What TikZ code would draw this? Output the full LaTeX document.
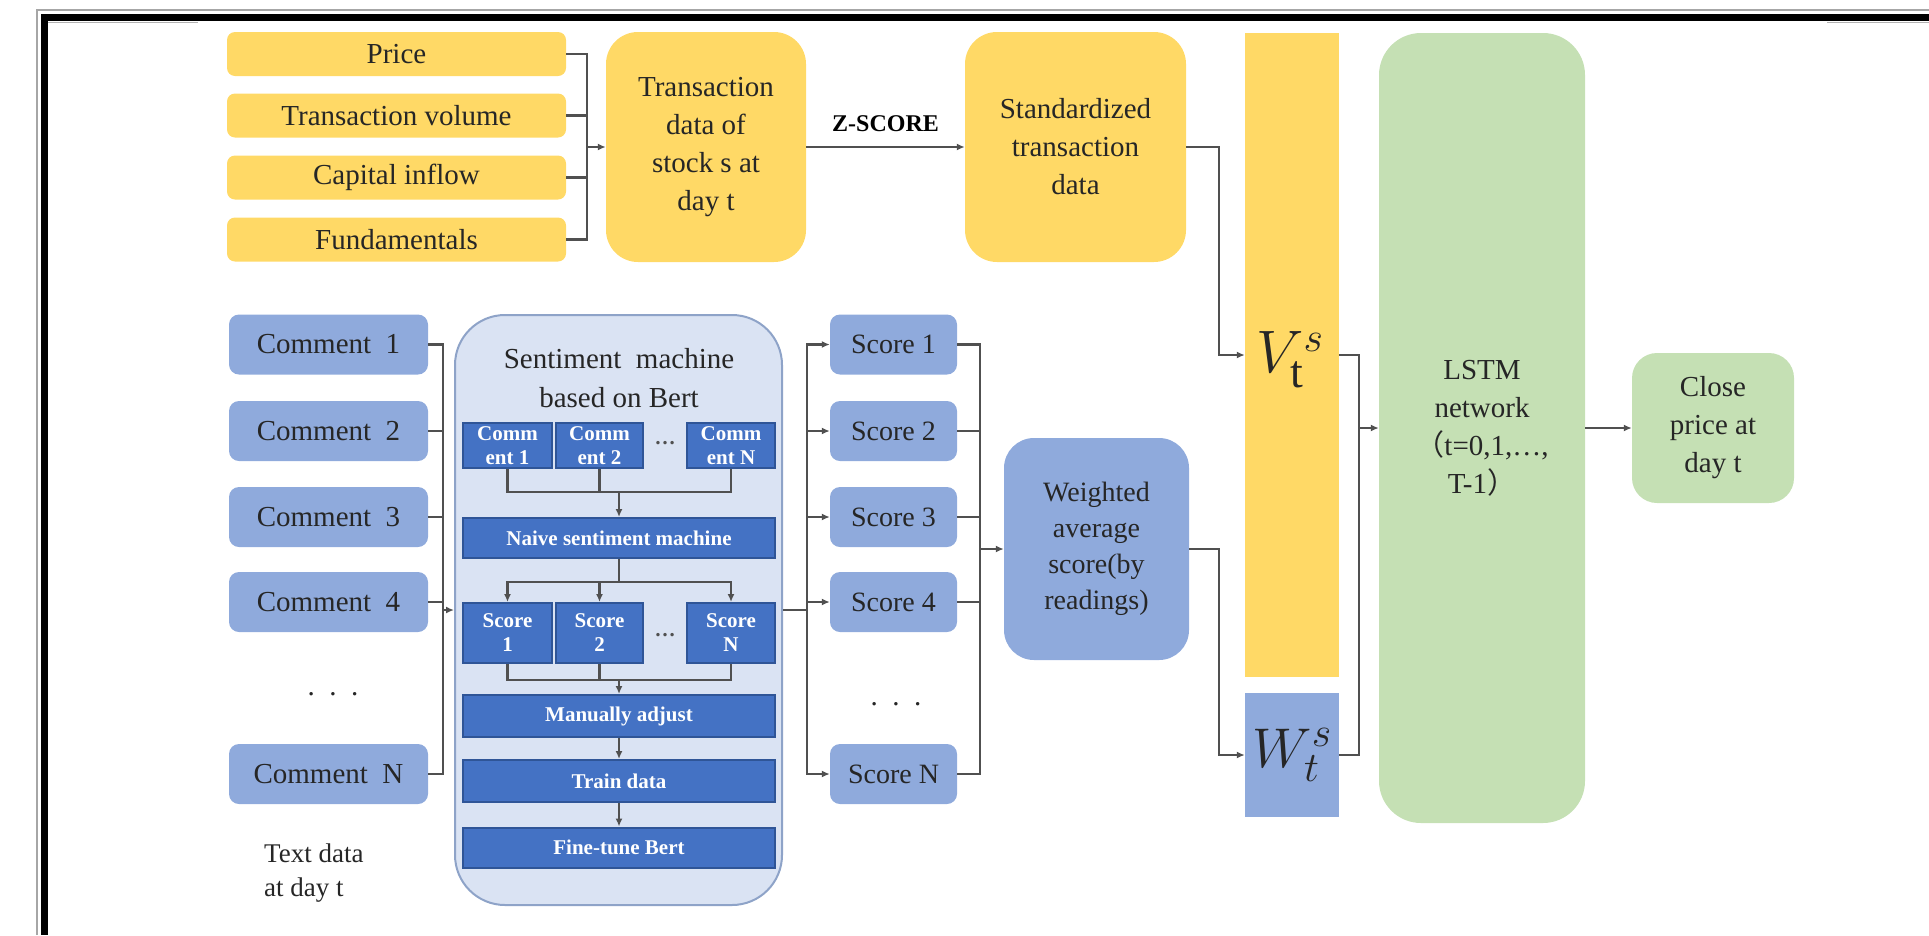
\documentclass[tikz,border=0pt]{standalone}
\usepackage{fix-cm}
\usepackage{fontspec}
\setmainfont{Liberation Serif}
\newfontfamily\cjk{Noto Sans CJK SC}
\usetikzlibrary{arrows.meta,calc}
\definecolor{yel}{HTML}{FFD966}
\definecolor{blueL}{HTML}{8FAADC}
\definecolor{blueD}{HTML}{4472C4}
\definecolor{blueDD}{HTML}{2F5597}
\definecolor{contF}{HTML}{DAE3F3}
\definecolor{contD}{HTML}{8EA3C8}
\definecolor{grn}{HTML}{C5E0B4}
\definecolor{lnc}{HTML}{505050}
\definecolor{txt}{HTML}{262626}
\begin{document}
\begin{tikzpicture}[x=1pt,y=-1pt,
  every node/.style={inner sep=0pt, align=center, text=txt},
  base/.style={font=\fontsize{29}{38}\selectfont},
  ybox/.style={base, fill=yel, rounded corners=8pt},
  ybig/.style={base, fill=yel, rounded corners=32pt},
  lbox/.style={base, fill=blueL, rounded corners=10pt},
  lbig/.style={base, fill=blueL, rounded corners=30pt, font=\fontsize{28}{36}\selectfont},
  gbox/.style={base, fill=grn},
  cont/.style={fill=contF, draw=contD, line width=2pt, rounded corners=50pt},
  ibox/.style={fill=blueD, draw=blueDD, line width=2pt, text=white, font=\bfseries\fontsize{21}{24}\selectfont},
  conn/.style={draw=lnc, line width=2.5pt},
  arr/.style={conn, -{Latex[length=8pt,width=7pt]}},
]
\useasboundingbox (0,0) rectangle (1929,935);
% frame
\draw[gray!70, line width=1.5pt] (37,935) -- (37,10) -- (1929,10);
\fill[black] (41,14) rectangle (1929,21);
\fill[black] (41,14) rectangle (48,935);
\draw[gray!60, line width=1pt] (48,22.5) -- (198,22.5);
\draw[gray!60, line width=1pt] (1827,22.5) -- (1929,22.5);

% top: transaction inputs
\node[ybox, minimum width=339pt, minimum height=44pt] (price) at (396.5,54) {Price};
\node[ybox, minimum width=339pt, minimum height=44pt] (tvol) at (396.5,115.5) {Transaction volume};
\node[ybox, minimum width=339pt, minimum height=44pt] (cap) at (396.5,177.5) {Capital inflow};
\node[ybox, minimum width=339pt, minimum height=44pt] (fund) at (396.5,239.5) {Fundamentals};
\node[ybig, minimum width=200pt, minimum height=230pt] (trans) at (706,147) {Transaction\\data of\\stock s at\\day t};
\node[ybig, minimum width=221pt, minimum height=230pt] (std) at (1075.5,147) {Standardized\\transaction\\data};

% right column
\node[fill=yel, minimum width=94pt, minimum height=644pt] (V) at (1292,355) {};
\node (Vt) at (1290,360) {\fontsize{60}{60}\selectfont$V_{\mbox{\fontsize{46}{46}\selectfont t}}^{\mbox{\fontsize{42}{42}\selectfont$s$}}$};
\node[fill=blueL, minimum width=94pt, minimum height=124pt] (W) at (1292,755) {\fontsize{56}{56}\selectfont$W_{\mbox{\fontsize{42}{42}\selectfont$t$}}^{\mbox{\fontsize{42}{42}\selectfont$s$}}$};
\node[gbox, rounded corners=42pt, minimum width=206pt, minimum height=790pt] (lstm) at (1482,428) {LSTM\\network\\{\cjk （}t=0,1,…,\\T-1{\cjk ）}};
\node[gbox, rounded corners=25pt, minimum width=162pt, minimum height=150pt] (close) at (1713,428) {Close\\price at\\day t};

% comments
\node[lbox, minimum width=199pt, minimum height=60pt] (c1) at (328.5,344.5) {Comment\ \ 1};
\node[lbox, minimum width=199pt, minimum height=60pt] (c2) at (328.5,431) {Comment\ \ 2};
\node[lbox, minimum width=199pt, minimum height=60pt] (c3) at (328.5,517) {Comment\ \ 3};
\node[lbox, minimum width=199pt, minimum height=60pt] (c4) at (328.5,602) {Comment\ \ 4};
\node[base] (cdots) at (333,694) {.\ \ .\ \ .};
\node[lbox, minimum width=199pt, minimum height=60pt] (cN) at (328.5,774) {Comment\ \ N};
\node[base, anchor=west, align=left, font=\fontsize{27}{34}\selectfont] (tdata) at (264,873) {Text data\\at day t};

% sentiment machine
\node[cont, minimum width=327pt, minimum height=590pt] (sent) at (618.5,610) {};
\node[base, font=\fontsize{29}{39}\selectfont] (stitle) at (619,378) {Sentiment\ \ machine\\based on Bert};
\node[ibox, minimum width=89pt, minimum height=45pt] (cm1) at (507.5,445.5) {Comm\\ent 1};
\node[ibox, minimum width=87pt, minimum height=45pt] (cm2) at (599.5,445.5) {Comm\\ent 2};
\node[font=\bfseries\fontsize{21}{24}\selectfont, text=lnc] (cmd) at (665,443) {…};
\node[ibox, minimum width=88pt, minimum height=45pt] (cmN) at (731,445.5) {Comm\\ent N};
\node[ibox, minimum width=312pt, minimum height=40pt] (naive) at (619,538) {Naive sentiment machine};
\node[ibox, minimum width=89pt, minimum height=60pt] (sc1) at (507.5,633) {Score\\1};
\node[ibox, minimum width=87pt, minimum height=60pt] (sc2) at (599.5,633) {Score\\2};
\node[font=\bfseries\fontsize{21}{24}\selectfont, text=lnc] (scd) at (665,635) {…};
\node[ibox, minimum width=88pt, minimum height=60pt] (scN) at (731,633) {Score\\N};
\node[ibox, minimum width=312pt, minimum height=42pt] (manual) at (619,716) {Manually adjust};
\node[ibox, minimum width=312pt, minimum height=42pt] (train) at (619,781) {Train data};
\node[ibox, minimum width=312pt, minimum height=40pt] (fine) at (619,847.5) {Fine-tune Bert};

% scores
\node[lbox, minimum width=127pt, minimum height=60pt, font=\fontsize{28}{34}\selectfont] (s1) at (893.5,344.5) {Score\ 1};
\node[lbox, minimum width=127pt, minimum height=60pt, font=\fontsize{28}{34}\selectfont] (s2) at (893.5,431) {Score\ 2};
\node[lbox, minimum width=127pt, minimum height=60pt, font=\fontsize{28}{34}\selectfont] (s3) at (893.5,517) {Score\ 3};
\node[lbox, minimum width=127pt, minimum height=60pt, font=\fontsize{28}{34}\selectfont] (s4) at (893.5,602) {Score\ 4};
\node[base] (sdots) at (896,704) {.\ \ .\ \ .};
\node[lbox, minimum width=127pt, minimum height=60pt, font=\fontsize{28}{34}\selectfont] (sN) at (893.5,774) {Score\ N};
\node[lbig, minimum width=185pt, minimum height=222pt] (wavg) at (1096.5,549) {Weighted\\average\\score(by\\readings)};

% junction coordinates
\coordinate (jin) at (587,147);
\coordinate (jV) at (1219,0);
\coordinate (jL) at (1359,428);
\coordinate (jC) at (443,610);
\coordinate (jN) at (619,492);
\coordinate (jS) at (619,582);
\coordinate (jM) at (619,680);
\coordinate (jR) at (807,610);
\coordinate (jW) at (980,549);

% connectors: top
\draw[conn] (price.east) -| (jin);
\draw[conn] (tvol.east) -| (jin);
\draw[conn] (cap.east) -| (jin);
\draw[conn] (fund.east) -| (jin);
\draw[arr] (jin) -- (trans.west);
\draw[arr] (trans.east) -- node[above=14pt, font=\bfseries\fontsize{24}{28}\selectfont, text=black] (zs) {Z-SCORE} (std.west);
\draw[arr] (std.east) -| (jV |- V.west) -- (V.west);
\draw[arr] (wavg.east) -| (jV |- W.west) -- (W.west);
\draw[conn] (V.east) -| (jL);
\draw[conn] (W.east) -| (jL);
\draw[arr] (jL) -- (lstm.west);
\draw[arr] (lstm.east) -- (close.west);

% comments -> sentiment machine
\draw[conn] (c1.east) -| (jC);
\draw[conn] (c2.east) -| (jC);
\draw[conn] (c3.east) -| (jC);
\draw[conn] (c4.east) -| (jC);
\draw[conn] (cN.east) -| (jC);
\draw[arr] (jC) -- (sent.west);

% inner flow
\draw[conn] (cm1.south) |- (jN);
\draw[conn] (cm2.south) |- (jN);
\draw[conn] (cmN.south) |- (jN);
\draw[arr] (jN) -- (naive.north);
\draw[conn] (naive.south) -- (jS);
\draw[arr] (jS) -| (sc1.north);
\draw[arr] (jS) -| (sc2.north);
\draw[arr] (jS) -| (scN.north);
\draw[conn] (sc1.south) |- (jM);
\draw[conn] (sc2.south) |- (jM);
\draw[conn] (scN.south) |- (jM);
\draw[arr] (jM) -- (manual.north);
\draw[arr] (manual.south) -- (train.north);
\draw[arr] (train.south) -- (fine.north);

% sentiment machine -> scores
\draw[conn] (sent.east) -- (jR);
\draw[arr] (jR) |- (s1.west);
\draw[arr] (jR) |- (s2.west);
\draw[arr] (jR) |- (s3.west);
\draw[arr] (jR) |- (s4.west);
\draw[arr] (jR) |- (sN.west);

% scores -> weighted
\draw[conn] (s1.east) -| (jW);
\draw[conn] (s2.east) -| (jW);
\draw[conn] (s3.east) -| (jW);
\draw[conn] (s4.east) -| (jW);
\draw[conn] (sN.east) -| (jW);
\draw[arr] (jW) -- (wavg.west);
\end{tikzpicture}
\end{document}
